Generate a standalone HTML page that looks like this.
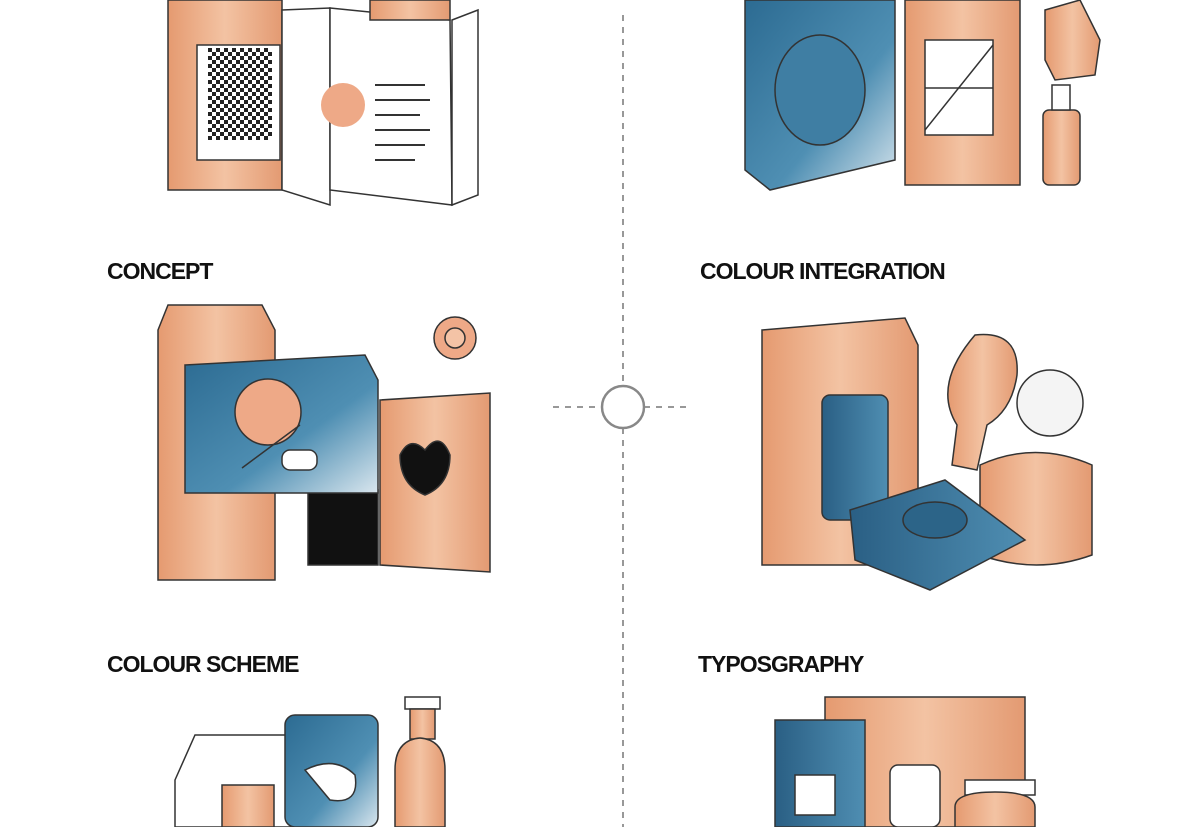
<!DOCTYPE html>
<html><head><meta charset="utf-8"><style>
html,body{margin:0;padding:0;background:#fff;}
svg{display:block;}
text{font-family:"Liberation Sans",sans-serif;font-weight:bold;font-size:23px;fill:#111;letter-spacing:-1px;}
</style></head><body>
<svg width="1181" height="827" viewBox="0 0 1181 827" xmlns="http://www.w3.org/2000/svg">
<defs>
<linearGradient id="or" x1="0" x2="1"><stop offset="0" stop-color="#e59a70"/><stop offset="0.5" stop-color="#f3c3a3"/><stop offset="1" stop-color="#e39a72"/></linearGradient>
<linearGradient id="bl" x1="0" x2="1" y1="0" y2="1"><stop offset="0" stop-color="#2c6b92"/><stop offset="0.6" stop-color="#4f8fb3"/><stop offset="1" stop-color="#d9e6ee"/></linearGradient>
<linearGradient id="bl2" x1="0" x2="1"><stop offset="0" stop-color="#2a5f84"/><stop offset="1" stop-color="#4f8eb2"/></linearGradient>
<pattern id="ck" width="8" height="8" patternUnits="userSpaceOnUse"><rect width="8" height="8" fill="#fff"/><rect width="4" height="4" fill="#222"/><rect x="4" y="4" width="4" height="4" fill="#222"/></pattern>
</defs>
<g stroke="#333" stroke-width="1.5">
<rect x="168" y="0" width="114" height="190" fill="url(#or)"/>
<rect x="197" y="45" width="83" height="115" fill="#fff"/>
<rect x="208" y="48" width="64" height="92" fill="url(#ck)" stroke="none"/>
<polygon points="282,10 330,8 330,205 282,190" fill="#fff"/>
<polygon points="330,8 450,20 452,205 330,190" fill="#fff"/>
<polygon points="452,20 478,10 478,195 452,205" fill="#fff"/>
<circle cx="343" cy="105" r="22" fill="#eea987" stroke="none"/>
<rect x="370" y="0" width="80" height="20" fill="url(#or)"/>
</g>
<g stroke="#333" stroke-width="2">
<line x1="375" y1="85" x2="425" y2="85"/><line x1="375" y1="100" x2="430" y2="100"/><line x1="375" y1="115" x2="420" y2="115"/><line x1="375" y1="130" x2="430" y2="130"/><line x1="375" y1="145" x2="425" y2="145"/><line x1="375" y1="160" x2="415" y2="160"/>
</g>
<g stroke="#333" stroke-width="1.5">
<polygon points="745,0 895,0 895,160 770,190 745,170" fill="url(#bl)"/>
<ellipse cx="820" cy="90" rx="45" ry="55" fill="#3f7ea3"/>
<rect x="905" y="0" width="115" height="185" fill="url(#or)"/>
<rect x="925" y="40" width="68" height="95" fill="#fff"/>
<line x1="925" y1="130" x2="993" y2="45"/><line x1="925" y1="88" x2="993" y2="88"/>
<path d="M1045,10 L1080,0 L1100,40 L1095,75 L1055,80 L1045,60 Z" fill="url(#or)"/>
<rect x="1043" y="110" width="37" height="75" rx="6" fill="url(#or)"/>
<rect x="1052" y="85" width="18" height="25" fill="#fff"/>
<circle cx="455" cy="338" r="21" fill="#eea987"/>
<circle cx="455" cy="338" r="10" fill="#f4c3a6"/>
<polygon points="168,305 262,305 275,330 275,580 158,580 158,330" fill="url(#or)"/>
<polygon points="380,400 490,393 490,572 380,565" fill="url(#or)"/>
<path d="M400,455 q10,-20 25,-5 q15,-20 25,5 q0,30 -25,40 q-25,-10 -25,-40z" fill="#111"/>
<rect x="308" y="490" width="70" height="75" fill="#111"/>
<polygon points="185,365 365,355 378,380 378,493 185,493" fill="url(#bl)"/>
<circle cx="268" cy="412" r="33" fill="#eea987"/>
<line x1="242" y1="468" x2="300" y2="425"/>
<rect x="282" y="450" width="35" height="20" rx="8" fill="#fff"/>
<polygon points="762,330 905,318 918,345 918,565 762,565" fill="url(#or)"/>
<rect x="822" y="395" width="66" height="125" rx="8" fill="url(#bl2)"/>
<path d="M975,335 q45,-5 42,40 q-5,35 -30,50 l-10,45 l-25,-5 l5,-40 q-25,-40 18,-90z" fill="url(#or)"/>
<circle cx="1050" cy="403" r="33" fill="#f4f4f4"/>
<path d="M980,465 q55,-25 112,0 l0,90 q-55,20 -112,0z" fill="url(#or)"/>
<polygon points="850,510 945,480 1025,540 930,590 855,560" fill="url(#bl2)"/>
<ellipse cx="935" cy="520" rx="32" ry="18" fill="#2c6488"/>
<polygon points="175,780 195,735 295,735 295,827 175,827" fill="#fff"/>
<rect x="222" y="785" width="52" height="42" fill="url(#or)"/>
<rect x="285" y="715" width="93" height="112" rx="10" fill="url(#bl)"/>
<path d="M305,770 q30,-15 50,5 q5,30 -25,25z" fill="#fff"/>
<rect x="405" y="697" width="35" height="12" fill="#fff"/>
<rect x="410" y="709" width="25" height="30" fill="url(#or)"/>
<path d="M395,827 L395,770 q0,-30 25,-32 q25,2 25,32 L445,827z" fill="url(#or)"/>
<rect x="825" y="697" width="200" height="130" fill="url(#or)"/>
<rect x="775" y="720" width="90" height="107" fill="url(#bl2)"/>
<rect x="795" y="775" width="40" height="40" fill="#fff"/>
<rect x="890" y="765" width="50" height="62" rx="8" fill="#fff"/>
<rect x="965" y="780" width="70" height="15" fill="#fff"/>
<path d="M955,827 l0,-20 q0,-15 40,-15 q40,0 40,15 l0,20z" fill="url(#or)"/>
</g>
<g stroke="#777" stroke-width="1.5" fill="none" stroke-dasharray="6,6">
<line x1="623" y1="15" x2="623" y2="386"/>
<line x1="623" y1="428" x2="623" y2="827"/>
<line x1="553" y1="407" x2="602" y2="407"/>
<line x1="644" y1="407" x2="692" y2="407"/>
</g>
<circle cx="623" cy="407" r="21" fill="none" stroke="#888" stroke-width="2.5"/>
<text x="107" y="279">CONCEPT</text>
<text x="700" y="279">COLOUR INTEGRATION</text>
<text x="107" y="672">COLOUR SCHEME</text>
<text x="698" y="672">TYPOSGRAPHY</text>
</svg>
</body></html>
